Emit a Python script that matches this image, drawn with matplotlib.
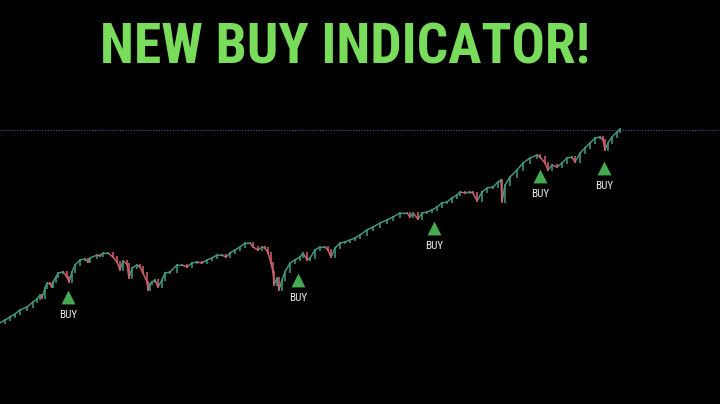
import matplotlib

matplotlib.use("Agg")
import matplotlib.pyplot as plt
import numpy as np
from matplotlib import font_manager
from matplotlib.collections import LineCollection

# -- Price path (bar position, close level) ----------------------------------
bar = [
    0, 5, 10, 15, 20, 27, 33, 37, 40, 42,
    45, 47, 50, 52, 53, 56, 58, 63, 67, 69,
    72, 75, 80, 85, 88, 90, 97, 100, 103, 108,
    113, 117, 120, 123, 127, 129, 132, 137, 140, 143,
    147, 148, 150, 152, 155, 158, 162, 165, 170, 177,
    182, 187, 192, 197, 202, 207, 212, 217, 222, 226,
    230, 235, 240, 245, 250, 253, 258, 262, 265, 268,
    271, 273, 274, 277, 279, 282, 285, 290, 295, 300,
    303, 307, 310, 315, 320, 325, 328, 331, 335, 340,
    345, 350, 355, 360, 367, 373, 380, 387, 393, 400,
    407, 410, 413, 418, 422, 427, 432, 437, 442, 447,
    452, 457, 460, 465, 470, 473, 477, 482, 487, 493,
    498, 501, 502, 505, 510, 517, 523, 530, 537, 540,
    545, 548, 552, 557, 562, 567, 572, 575, 580, 585,
    590, 595, 600, 603, 605, 608, 612, 617, 620,
]
close = [
    81, 84, 87, 90, 94, 97, 102, 105, 109, 106,
    116, 121, 120, 117, 122, 127, 131, 132, 127, 122,
    132, 139, 144, 145, 142, 146, 149, 148, 151, 151,
    147, 142, 134, 143, 140, 126, 136, 139, 137, 131,
    122, 114, 120, 122, 124, 117, 124, 131, 132, 139,
    139, 137, 141, 142, 141, 144, 146, 149, 149, 147,
    151, 154, 157, 161, 161, 157, 154, 157, 156, 151,
    141, 132, 119, 126, 114, 124, 132, 141, 144, 147,
    151, 144, 146, 154, 157, 157, 154, 147, 156, 161,
    162, 164, 166, 169, 174, 177, 181, 184, 187, 191,
    191, 187, 191, 185, 191, 192, 194, 197, 201, 202,
    206, 209, 212, 211, 212, 211, 203, 212, 216, 217,
    222, 224, 202, 219, 227, 234, 241, 246, 249, 247,
    241, 234, 239, 237, 241, 246, 247, 242, 251, 256,
    261, 266, 267, 264, 254, 261, 267, 272, 275,
]

# -- BUY signals --------------------------------------------------------------
buy_bar = [68, 298, 434, 540, 604]
buy_level = [107, 124, 176, 228, 236]

# -- All-time-high reference line ---------------------------------------------
ath_level = 274

TITLE = "NEW BUY INDICATOR!"

# -- Styling ------------------------------------------------------------------
_BG = "#000000"
_TITLE_COLOR = "#79dc5a"
_UP = "#3f9c82"
_DOWN = "#d8606e"
_BUY_GREEN = "#45aa52"
_ATH_COLOR = "#5b4fa3"

_available = {f.name for f in font_manager.fontManager.ttflist}
_NARROW = next(
    (f for f in ("Liberation Sans Narrow", "Roboto Condensed", "DejaVu Sans") if f in _available),
    "DejaVu Sans",
)

fig = plt.figure(figsize=(7.2, 4.04), dpi=100, facecolor=_BG)
ax = fig.add_axes([0, 0, 1, 1])
ax.set_facecolor(_BG)
ax.set_xlim(0, 720)
ax.set_ylim(0, 404)
ax.axis("off")

# Price path, segments coloured by direction
x = np.asarray(bar, dtype=float)
y = np.asarray(close, dtype=float)
pts = np.column_stack([x, y]).reshape(-1, 1, 2)
segs = np.concatenate([pts[:-1], pts[1:]], axis=1)
colors = [_UP if b >= a else _DOWN for a, b in zip(y[:-1], y[1:])]
ax.plot(x, y, color="#8a8a8a", linewidth=1.2, alpha=0.35, zorder=2)
ax.add_collection(LineCollection(segs, colors=colors, linewidths=0.9, zorder=3))

# candle bodies: open = previous close
ax.vlines(x[1:], np.minimum(y[:-1], y[1:]) - 1, np.maximum(y[:-1], y[1:]) + 1,
          colors=colors, linewidth=1.3, alpha=0.85, zorder=3)

# ATH dotted line
ax.axhline(ath_level, color=_ATH_COLOR, linestyle=(0, (1, 1.5)), linewidth=0.8, zorder=1)

# BUY markers and labels
ax.scatter(buy_bar, buy_level, marker="^", s=100, color=_BUY_GREEN, linewidths=0, zorder=4)
for bx, by in zip(buy_bar, buy_level):
    ax.annotate(
        "BUY",
        (bx, by),
        xytext=(0, -13),
        textcoords="offset points",
        ha="center",
        va="center",
        fontsize=8,
        color="#ececec",
        family=[_NARROW, "DejaVu Sans"],
        fontstretch="condensed",
    )

# Headline, scaled to the reference width
title = fig.text(
    0.5,
    (404 - 64) / 404,
    TITLE,
    ha="center",
    va="baseline",
    color=_TITLE_COLOR,
    fontsize=40,
    fontweight="heavy",
    family=[_NARROW, "DejaVu Sans"],
    fontstretch="condensed",
)
fig.canvas.draw()
bb = title.get_window_extent(fig.canvas.get_renderer())
title.set_fontsize(40 * 490 / bb.width)
title.set_x((101 + 589) / 2 / 720)

fig.savefig("out.png", dpi=100, facecolor=_BG)
